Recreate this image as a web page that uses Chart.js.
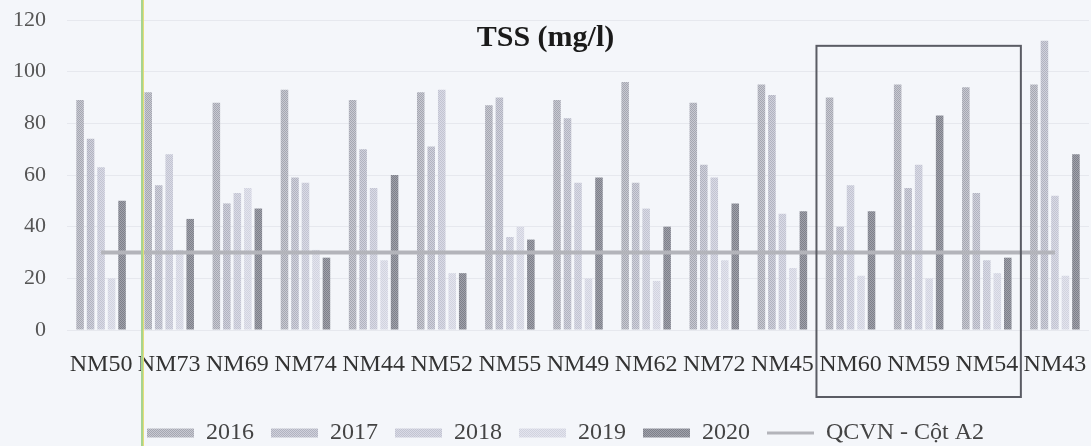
<!DOCTYPE html>
<html>
<head>
<meta charset="utf-8">
<script src="https://cdn.jsdelivr.net/npm/chart.js@4/dist/chart.umd.min.js"></script>
<style>
  html, body { margin: 0; padding: 0; background: #f4f6fa; }
  #wrap { width: 1091px; height: 446px; }
</style>
</head>
<body>
<div id="wrap"><canvas id="c" width="1091" height="446"></canvas></div>
<script>
// Monitoring stations
const stations = ['NM50','NM73','NM69','NM74','NM44','NM52','NM55','NM49','NM62','NM72','NM45','NM60','NM59','NM54','NM43'];

// TSS (mg/l) per year
const tss2016 = [89, 92, 88, 93, 89, 92, 87, 89, 96, 88, 95, 90, 95, 94, 95];
const tss2017 = [74, 56, 49, 59, 70, 71, 90, 82, 57, 64, 91, 40, 55, 53, 112];
const tss2018 = [63, 68, 53, 57, 55, 93, 36, 57, 47, 59, 45, 56, 64, 27, 52];
const tss2019 = [20, 31, 55, 31, 27, 22, 40, 20, 19, 27, 24, 21, 20, 22, 21];
const tss2020 = [50, 43, 47, 28, 60, 22, 35, 59, 40, 49, 46, 46, 83, 28, 68];

// QCVN 08-MT:2015, column A2 limit
const qcvnA2 = stations.map(() => 30);

const yearLabels = ['2016', '2017', '2018', '2019', '2020'];
const limitLabel = 'QCVN - Cột A2';
const yTicks = [0, 20, 40, 60, 80, 100, 120];

// Fine print-like checker fill for the bars
function dotted(base, dot) {
  const c = document.createElement('canvas');
  c.width = 2; c.height = 2;
  const g = c.getContext('2d');
  g.fillStyle = base; g.fillRect(0, 0, 2, 2);
  g.fillStyle = dot;
  g.fillRect(0, 0, 1, 1); g.fillRect(1, 1, 1, 1);
  return g.createPattern(c, 'repeat');
}
const fills = [
  dotted('#c8c9d2', '#a5a7b1'),
  dotted('#d0d1dc', '#b1b3c0'),
  dotted('#d9dae6', '#c2c4d1'),
  dotted('#e3e4ee', '#d1d3df'),
  dotted('#a0a2ab', '#7e808a')
];
const yearData = [tss2016, tss2017, tss2018, tss2019, tss2020];
const limitColor = '#b3b4ba';

const SERIF = '"Liberation Serif", "Times New Roman", serif';

// Title, the highlighted station group and the green margin rule
const extras = {
  id: 'extras',
  afterLayout(chart) {
    // legend sits a little right of centre
    if (chart.legend) { chart.legend.left += 21; chart.legend.right += 21; }
  },
  afterDraw(chart) {
    const { ctx, scales: { x, y }, chartArea } = chart;
    const half = (x.getPixelForValue(1) - x.getPixelForValue(0)) / 2;
    ctx.save();
    // highlight frame around NM60 – NM54
    const left = x.getPixelForValue(11) - half;
    const right = x.getPixelForValue(13) + half;
    const top = y.getPixelForValue(110);
    const bottom = chartArea.bottom + 67;
    ctx.strokeStyle = '#5a5c64';
    ctx.lineWidth = 2;
    ctx.strokeRect(left, top, right - left, bottom - top);
    // green margin rule
    const gx = Math.round(x.getPixelForValue(0) + half + 6);
    ctx.fillStyle = '#a6d48f';
    ctx.fillRect(gx, 0, 2, chart.height);
    ctx.fillStyle = '#e6dc7a';
    ctx.fillRect(gx + 2, 0, 1, chart.height);
    // title
    ctx.fillStyle = '#1a1a1a';
    ctx.font = 'bold 30px ' + SERIF;
    ctx.textAlign = 'center';
    ctx.textBaseline = 'middle';
    ctx.fillText('TSS (mg/l)', chart.width / 2, 38);
    ctx.restore();
  }
};

const datasets = yearLabels.map((lab, i) => ({
  type: 'bar',
  label: lab,
  data: yearData[i],
  backgroundColor: fills[i],
  borderWidth: 0,
  order: 1,
  categoryPercentage: 0.77,
  barPercentage: 0.72
}));
datasets.push({
  type: 'line',
  label: limitLabel,
  data: qcvnA2,
  borderColor: limitColor,
  borderWidth: 4,
  pointRadius: 0,
  fill: false,
  order: 0
});

new Chart(document.getElementById('c'), {
  data: { labels: stations, datasets },
  plugins: [extras],
  options: {
    responsive: false,
    animation: false,
    layout: { padding: { top: 0, right: 2, left: 0, bottom: -9 } },
    plugins: {
      title: { display: false },
      tooltip: { enabled: false },
      legend: {
        position: 'bottom',
        labels: {
          usePointStyle: true,
          pointStyleWidth: 47,
          boxHeight: 9,
          padding: 17,
          color: '#444',
          font: { family: SERIF, size: 24 },
          sort: (a, b) => a.datasetIndex - b.datasetIndex,
          generateLabels(chart) {
            const items = Chart.defaults.plugins.legend.labels.generateLabels(chart);
            items.forEach(it => {
              const ds = chart.data.datasets[it.datasetIndex];
              if (ds.type === 'line') {
                it.pointStyle = 'line';
                it.strokeStyle = limitColor;
                it.lineWidth = 3;
              } else {
                it.pointStyle = 'rect';
                it.lineWidth = 0;
                it.strokeStyle = 'rgba(0,0,0,0)';
              }
            });
            return items;
          }
        }
      }
    },
    scales: {
      x: {
        grid: { display: false },
        border: { display: false },
        ticks: {
          color: '#333',
          padding: 12,
          maxRotation: 0,
          autoSkip: false,
          font: { family: SERIF, size: 24 }
        },
        afterFit(s) { s.height = 74; s.paddingLeft = 0; s.paddingRight = 0; }
      },
      y: {
        min: 0,
        max: 120,
        afterBuildTicks(s) { s.ticks = yTicks.map(v => ({ value: v })); },
        grid: { color: '#e6e8ee', lineWidth: 1, drawTicks: false },
        border: { display: false },
        ticks: {
          color: '#555',
          padding: 21,
          font: { family: SERIF, size: 22 }
        },
        afterFit(s) { s.width = 67; s.paddingTop = 20; s.paddingBottom = 0; }
      }
    }
  }
});
</script>
</body>
</html>
